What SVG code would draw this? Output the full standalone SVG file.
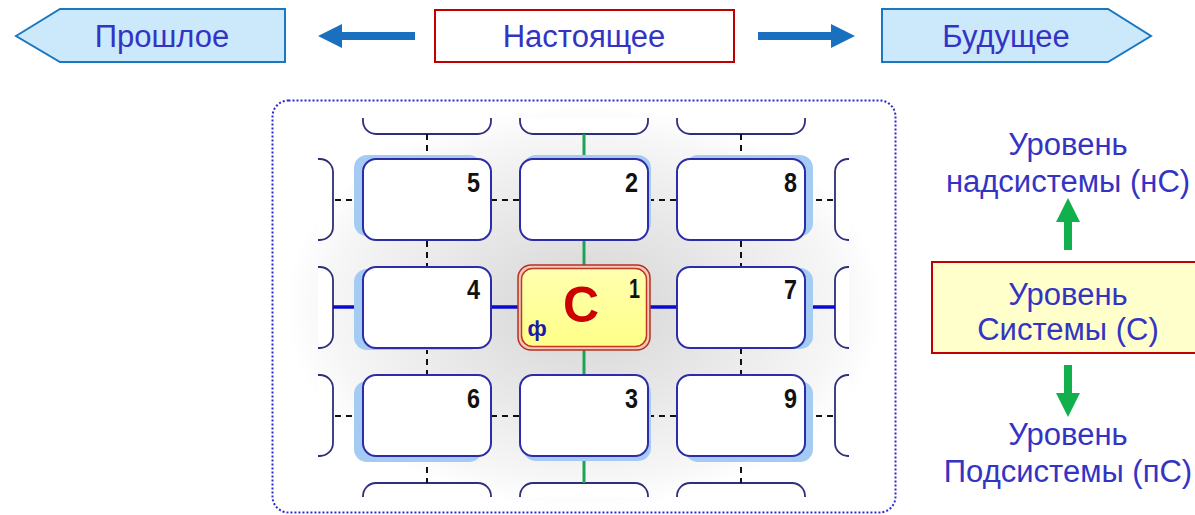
<svg xmlns="http://www.w3.org/2000/svg" width="1195" height="515" viewBox="0 0 1195 515">
<defs>
<style>
.lbl{font-family:"Liberation Sans",Arial,sans-serif;font-size:31px;fill:#3434c4;text-anchor:middle}
.num{font-family:"Liberation Sans Narrow","Liberation Sans",Arial,sans-serif;font-weight:bold;font-size:28px;fill:#111;text-anchor:end}
.box{fill:#fff;stroke:#2c2ca8;stroke-width:2}
.pbox{fill:#fff;stroke:#2e2e7a;stroke-width:1.8}
.shd{fill:#a3cbf3}
.dash{stroke:#111;stroke-width:2;stroke-dasharray:6 5;fill:none}
.grn{stroke:#1ea355;stroke-width:3;fill:none}
.blu{stroke:#0a0ad0;stroke-width:3.5;fill:none}
</style>
<radialGradient id="bg" cx="0.5" cy="0.5" r="0.5">
<stop offset="0" stop-color="#d4d4d4"/>
<stop offset="0.5" stop-color="#e8e8e8"/>
<stop offset="0.85" stop-color="#f6f6f6"/>
<stop offset="1" stop-color="#ffffff"/>
</radialGradient>
<linearGradient id="yel" x1="0" y1="0" x2="0" y2="1">
<stop offset="0" stop-color="#ffffb0"/>
<stop offset="1" stop-color="#ffff88"/>
</linearGradient>
<clipPath id="clip"><rect x="318" y="118" width="531" height="379"/></clipPath>
</defs>

<g id="past">
<polygon points="16,36 60,9 285,9 285,62 60,62" fill="#cce9fc" stroke="#1a78c0" stroke-width="2"/>
<text class="lbl" x="162" y="47">Прошлое</text>
</g>
<g id="present">
<rect x="435" y="10" width="299" height="52" fill="#fff" stroke="#c00000" stroke-width="2"/>
<text class="lbl" x="584" y="47">Настоящее</text>
</g>
<g id="future">
<polygon points="882,9 1108,9 1151,36 1108,62 882,62" fill="#cce9fc" stroke="#1a78c0" stroke-width="2"/>
<text class="lbl" x="1006" y="47">Будущее</text>
</g>

<g id="timeArrows" fill="#1a6fbf">
<polygon points="318,36 342,24 342,32 415,32 415,40 342,40 342,48"/>
<polygon points="855,36 831,24 831,32 758,32 758,40 831,40 831,48"/>
</g>

<g id="container">
<rect x="272.5" y="100.5" width="623" height="412" rx="16" fill="#fff" stroke="#2a2ad0" stroke-width="2" stroke-dasharray="2 2"/>
<rect x="285" y="106" width="598" height="402" fill="url(#bg)"/>
</g>

<g id="partials" clip-path="url(#clip)">
<rect class="pbox" x="363" y="53" width="128" height="81" rx="13"/>
<rect class="pbox" x="520" y="53" width="128" height="81" rx="13"/>
<rect class="pbox" x="677" y="53" width="128" height="81" rx="13"/>
<rect class="pbox" x="363" y="483" width="128" height="81" rx="13"/>
<rect class="pbox" x="520" y="483" width="128" height="81" rx="13"/>
<rect class="pbox" x="677" y="483" width="128" height="81" rx="13"/>
<rect class="pbox" x="205" y="159" width="128" height="81" rx="13"/>
<rect class="pbox" x="205" y="267" width="128" height="81" rx="13"/>
<rect class="pbox" x="205" y="375" width="128" height="81" rx="13"/>
<rect class="pbox" x="835" y="159" width="128" height="81" rx="13"/>
<rect class="pbox" x="835" y="267" width="128" height="81" rx="13"/>
<rect class="pbox" x="835" y="375" width="128" height="81" rx="13"/>
</g>

<g id="connectors">
<line class="dash" x1="427" y1="134" x2="427" y2="159"/>
<line class="dash" x1="427" y1="241" x2="427" y2="267"/>
<line class="dash" x1="427" y1="348" x2="427" y2="375"/>
<line class="dash" x1="427" y1="456" x2="427" y2="483"/>
<line class="dash" x1="741" y1="134" x2="741" y2="159"/>
<line class="dash" x1="741" y1="241" x2="741" y2="267"/>
<line class="dash" x1="741" y1="348" x2="741" y2="375"/>
<line class="dash" x1="741" y1="456" x2="741" y2="483"/>
<line class="grn" x1="584" y1="134" x2="584" y2="159"/>
<line class="grn" x1="584" y1="241" x2="584" y2="267"/>
<line class="grn" x1="584" y1="348" x2="584" y2="375"/>
<line class="grn" x1="584" y1="456" x2="584" y2="483"/>
<line class="dash" x1="335" y1="200" x2="363" y2="200"/>
<line class="dash" x1="491" y1="200" x2="520" y2="200"/>
<line class="dash" x1="648" y1="200" x2="677" y2="200"/>
<line class="dash" x1="805" y1="200" x2="835" y2="200"/>
<line class="dash" x1="335" y1="416" x2="363" y2="416"/>
<line class="dash" x1="491" y1="416" x2="520" y2="416"/>
<line class="dash" x1="648" y1="416" x2="677" y2="416"/>
<line class="dash" x1="805" y1="416" x2="835" y2="416"/>
<line class="blu" x1="333" y1="307" x2="363" y2="307"/>
<line class="blu" x1="491" y1="307" x2="520" y2="307"/>
<line class="blu" x1="648" y1="307" x2="677" y2="307"/>
<line class="blu" x1="805" y1="307" x2="835" y2="307"/>
</g>

<g id="n5"><rect class="shd" x="354" y="155" width="128" height="81" rx="13"/><rect class="box" x="363" y="159" width="128" height="81" rx="13"/><text class="num" x="480" y="192" textLength="13" lengthAdjust="spacingAndGlyphs">5</text></g>
<g id="n2"><rect class="shd" x="523" y="155" width="128" height="81" rx="13"/><rect class="box" x="520" y="159" width="128" height="81" rx="13"/><text class="num" x="638" y="192" textLength="13" lengthAdjust="spacingAndGlyphs">2</text></g>
<g id="n8"><rect class="shd" x="685" y="155" width="128" height="81" rx="13"/><rect class="box" x="677" y="159" width="128" height="81" rx="13"/><text class="num" x="797" y="192" textLength="13" lengthAdjust="spacingAndGlyphs">8</text></g>
<g id="n4"><rect class="shd" x="354" y="269" width="128" height="81" rx="13"/><rect class="box" x="363" y="267" width="128" height="81" rx="13"/><text class="num" x="480" y="299" textLength="13" lengthAdjust="spacingAndGlyphs">4</text></g>
<g id="n7"><rect class="shd" x="685" y="268" width="128" height="81" rx="13"/><rect class="box" x="677" y="267" width="128" height="81" rx="13"/><text class="num" x="797" y="299" textLength="13" lengthAdjust="spacingAndGlyphs">7</text></g>
<g id="n6"><rect class="shd" x="354" y="381" width="128" height="81" rx="13"/><rect class="box" x="363" y="375" width="128" height="81" rx="13"/><text class="num" x="480" y="408" textLength="13" lengthAdjust="spacingAndGlyphs">6</text></g>
<g id="n3"><rect class="shd" x="523" y="380" width="128" height="81" rx="13"/><rect class="box" x="520" y="375" width="128" height="81" rx="13"/><text class="num" x="638" y="408" textLength="13" lengthAdjust="spacingAndGlyphs">3</text></g>
<g id="n9"><rect class="shd" x="685" y="381" width="128" height="81" rx="13"/><rect class="box" x="677" y="375" width="128" height="81" rx="13"/><text class="num" x="797" y="408" textLength="13" lengthAdjust="spacingAndGlyphs">9</text></g>

<g id="n1">
<rect x="518" y="265" width="132" height="85" rx="13" fill="#f2c8b8" stroke="#b83020" stroke-width="1.5"/>
<rect x="521.5" y="268.5" width="125" height="78" rx="11" fill="url(#yel)" stroke="#c03828" stroke-width="1.5"/>
<text x="581" y="322" font-family="Liberation Sans,Arial,sans-serif" font-weight="bold" font-size="50" fill="#cc0000" text-anchor="middle">С</text>
<text class="num" x="640" y="298" textLength="11" lengthAdjust="spacingAndGlyphs">1</text>
<text x="537" y="336" font-family="Liberation Sans,Arial,sans-serif" font-weight="bold" font-size="22" fill="#1a1aa8" text-anchor="middle">ф</text>
</g>

<g id="levelUp">
<text class="lbl" x="1068" y="155">Уровень</text>
<text class="lbl" x="1068" y="192">надсистемы (нС)</text>
</g>
<g id="levelSys">
<rect x="932" y="262" width="265" height="91" fill="#ffffcc" stroke="#c00000" stroke-width="2"/>
<text class="lbl" x="1068" y="305">Уровень</text>
<text class="lbl" x="1068" y="340">Системы (С)</text>
</g>
<g id="levelDown">
<text class="lbl" x="1068" y="445">Уровень</text>
<text class="lbl" x="1068" y="482">Подсистемы (пС)</text>
</g>
<g id="levelArrows" fill="#12b04c">
<polygon points="1068,198 1080,222 1072,222 1072,250 1064,250 1064,222 1056,222"/>
<polygon points="1068,417 1080,393 1072,393 1072,365 1064,365 1064,393 1056,393"/>
</g>
</svg>
